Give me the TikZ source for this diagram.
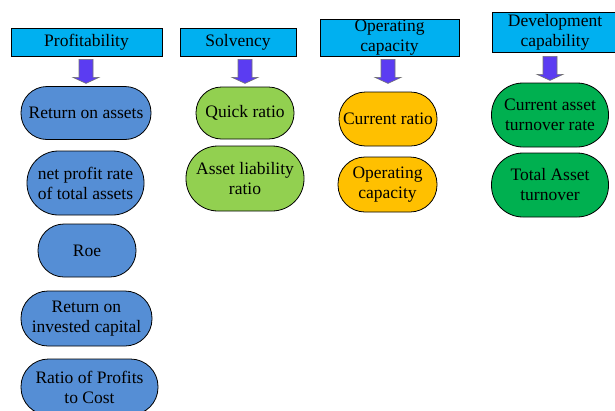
\documentclass[tikz,border=0pt]{standalone}
\usepackage{fontspec}
\setmainfont{LiberationSerif-Regular.ttf}
\usepackage{tikz}
\usetikzlibrary{calc,positioning}
\definecolor{hdrcyan}{HTML}{00B0F0}
\definecolor{profblue}{HTML}{558ED5}
\definecolor{solvgreen}{HTML}{92D050}
\definecolor{opyellow}{HTML}{FFC000}
\definecolor{devgreen}{HTML}{00B050}
\definecolor{arrpurple}{HTML}{5B3CF2}

\begin{document}
\begin{tikzpicture}[x=1pt,y=-1pt,
  header/.style={draw=black,line width=0.8,fill=hdrcyan,inner sep=0,align=center,font=\rmfamily\fontsize{17.5}{20}\selectfont},
  item/.style 2 args={draw=black,line width=0.8,inner sep=0,align=center,font=\rmfamily\fontsize{17.5}{20}\selectfont,
    minimum width=#1,minimum height=#2,rounded corners=#2/2-0.5},
  downarr/.style={fill=arrpurple,draw=black!55,line width=0.6}]
\useasboundingbox (0,0) rectangle (615,410);
% -> Profitability
\node[header,minimum width=151,minimum height=28] (prof) at (86.5,42) {Profitability};
\node[item={130}{53},fill=profblue] (roa) at (86,113) {Return on assets};
\node[item={117}{64},fill=profblue] (npr) at (85.5,183) {net profit rate\\of total assets};
\node[item={98}{53},fill=profblue] (roe) at (87,250.5) {Roe};
\node[item={131}{55},fill=profblue] (roic) at (86.5,318.5) {Return on\\invested capital};
\node[item={137}{56},fill=profblue] (rpc) at (89.5,387) {Ratio of Profits\\to Cost};
\draw[downarr] ($(prof.south -| roa.north)+(-7,3)$) -- ++(14,0) -- ++(0,18) -- ++(6,0) -- ++(-13,6) -- ++(-13,-6) -- ++(6,0) -- cycle;
% -> Solvency
\node[header,minimum width=116,minimum height=28] (solv) at (238,42) {Solvency};
\node[item={98}{52},fill=solvgreen] (quick) at (245,113) {Quick ratio};
\node[item={118}{65},fill=solvgreen] (alr) at (245,178.5) {Asset liability\\ratio};
\draw[downarr] ($(solv.south -| quick.north)+(-7,3)$) -- ++(14,0) -- ++(0,18) -- ++(6,0) -- ++(-13,6) -- ++(-13,-6) -- ++(6,0) -- cycle;
% -> Operating capacity
\node[header,minimum width=139,minimum height=37] (opcap) at (389.5,37.5) {Operating\\capacity};
\node[item={98}{54},fill=opyellow] (curr) at (388,119) {Current ratio};
\node[item={99}{55},fill=opyellow] (opc) at (387.5,184.5) {Operating\\capacity};
\draw[downarr] ($(opcap.south -| curr.north)+(-7,3)$) -- ++(14,0) -- ++(0,18) -- ++(6,0) -- ++(-13,6) -- ++(-13,-6) -- ++(6,0) -- cycle;
% -> Development capability
\node[header,minimum width=126,minimum height=40] (dev) at (555,32) {Development\\capability};
\node[item={117}{64},fill=devgreen] (catr) at (550,115) {Current asset\\turnover rate};
\node[item={117}{64},fill=devgreen] (tat) at (550,185) {Total Asset\\turnover};
\draw[downarr] ($(dev.south -| catr.north)+(-7,4)$) -- ++(14,0) -- ++(0,18) -- ++(6,0) -- ++(-13,6) -- ++(-13,-6) -- ++(6,0) -- cycle;
\end{tikzpicture}
\end{document}
